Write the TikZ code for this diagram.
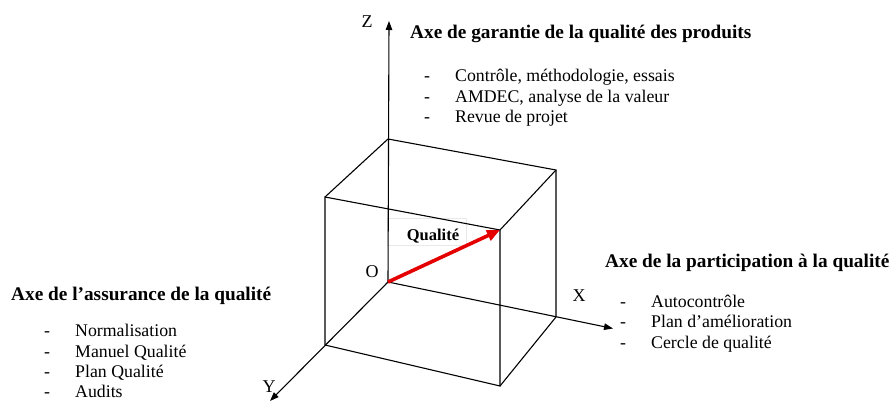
\documentclass[tikz,border=0pt]{standalone}
\usepackage{fontspec}
\setmainfont{Liberation Serif}
\usetikzlibrary{arrows.meta}
\begin{document}
\begin{tikzpicture}[x=1pt,y=-1pt,
  edge/.style={line width=1.1pt,black},
  axis/.style={line width=1.1pt,black,-{Triangle[length=9pt,width=6.5pt]}},
  qarrow/.style={line width=3.6pt,red!90!black,-{Triangle[length=13pt,width=11pt]}},
  ttl/.style={anchor=base west,inner sep=0pt,font=\fontsize{19.3}{22}\selectfont\bfseries},
  itm/.style={anchor=base west,inner sep=0pt,font=\fontsize{17.8}{20}\selectfont},
  dsh/.style={anchor=base west,inner sep=0pt,font=\fontsize{17.8}{20}\selectfont},
  axl/.style={inner sep=0pt,font=\fontsize{18}{20}\selectfont}]
\useasboundingbox (0,0) rectangle (896,403);
% cube corners
\coordinate (O) at (388,282);
\coordinate (BX) at (556,317);
\coordinate (BZ) at (388,139);
\coordinate (BXZ) at (556,170);
\coordinate (F0) at (325,345);
\coordinate (FX) at (500,386);
\coordinate (FZ) at (325,197);
\coordinate (FXZ) at (500,230);
\coordinate (Zend) at (389,21);
\coordinate (Xend) at (613,328.5);
\coordinate (Yend) at (270,401);
% Qualite box
\node[draw=black!9,fill=white,minimum width=79pt,minimum height=27pt,inner sep=0pt] (qbox) at (426.5,231.5) {};
\node[inner sep=0pt,font=\fontsize{16.5}{18}\selectfont\bfseries] (qual) at (433,236.5) {Qualité};
% cube edges
\draw[edge] (BZ) -- (BXZ) -- (BX);
\draw[edge] (FZ) -- (FXZ) -- (FX) -- (F0) -- cycle;
\draw[edge] (BZ) -- (FZ);
\draw[edge] (BXZ) -- (FXZ);
\draw[edge] (BX) -- (FX);
% axes
\draw[axis] (O) -- (Zend);
\draw[axis] (O) -- (Xend);
\draw[axis] (O) -- (Yend);
% quality vector
\draw[qarrow] (O) -- (FXZ);
% axis labels
\node[axl] (lz) at (367,22) {Z};
\node[axl] (lo) at (372,272) {O};
\node[axl] (lx) at (579,295.5) {X};
\node[axl] (ly) at (269,387) {Y};
% top block
\node[ttl] (t1) at (410,39) {Axe de garantie de la qualité des produits};
\node[dsh] (t1d1) at (424,82) {-};
\node[itm] (t1i1) at (455,82) {Contrôle, méthodologie, essais};
\node[dsh] (t1d2) at (424,102.5) {-};
\node[itm] (t1i2) at (455,102.5) {AMDEC, analyse de la valeur};
\node[dsh] (t1d3) at (424,122.5) {-};
\node[itm] (t1i3) at (455,122.5) {Revue de projet};
% right block
\node[ttl] (t2) at (605,267) {Axe de la participation à la qualité};
\node[dsh] (t2d1) at (620,307) {-};
\node[itm] (t2i1) at (651,307) {Autocontrôle};
\node[dsh] (t2d2) at (620,327.5) {-};
\node[itm] (t2i2) at (651,327.5) {Plan d’amélioration};
\node[dsh] (t2d3) at (620,348) {-};
\node[itm] (t2i3) at (651,348) {Cercle de qualité};
% left block
\node[ttl] (t3) at (11,300) {Axe de l’assurance de la qualité};
\node[dsh] (t3d1) at (44,336.5) {-};
\node[itm] (t3i1) at (75,336.5) {Normalisation};
\node[dsh] (t3d2) at (44,357.5) {-};
\node[itm] (t3i2) at (75,357.5) {Manuel Qualité};
\node[dsh] (t3d3) at (44,377.5) {-};
\node[itm] (t3i3) at (75,377.5) {Plan Qualité};
\node[dsh] (t3d4) at (44,397.5) {-};
\node[itm] (t3i4) at (75,397.5) {Audits};
\end{tikzpicture}
\end{document}
